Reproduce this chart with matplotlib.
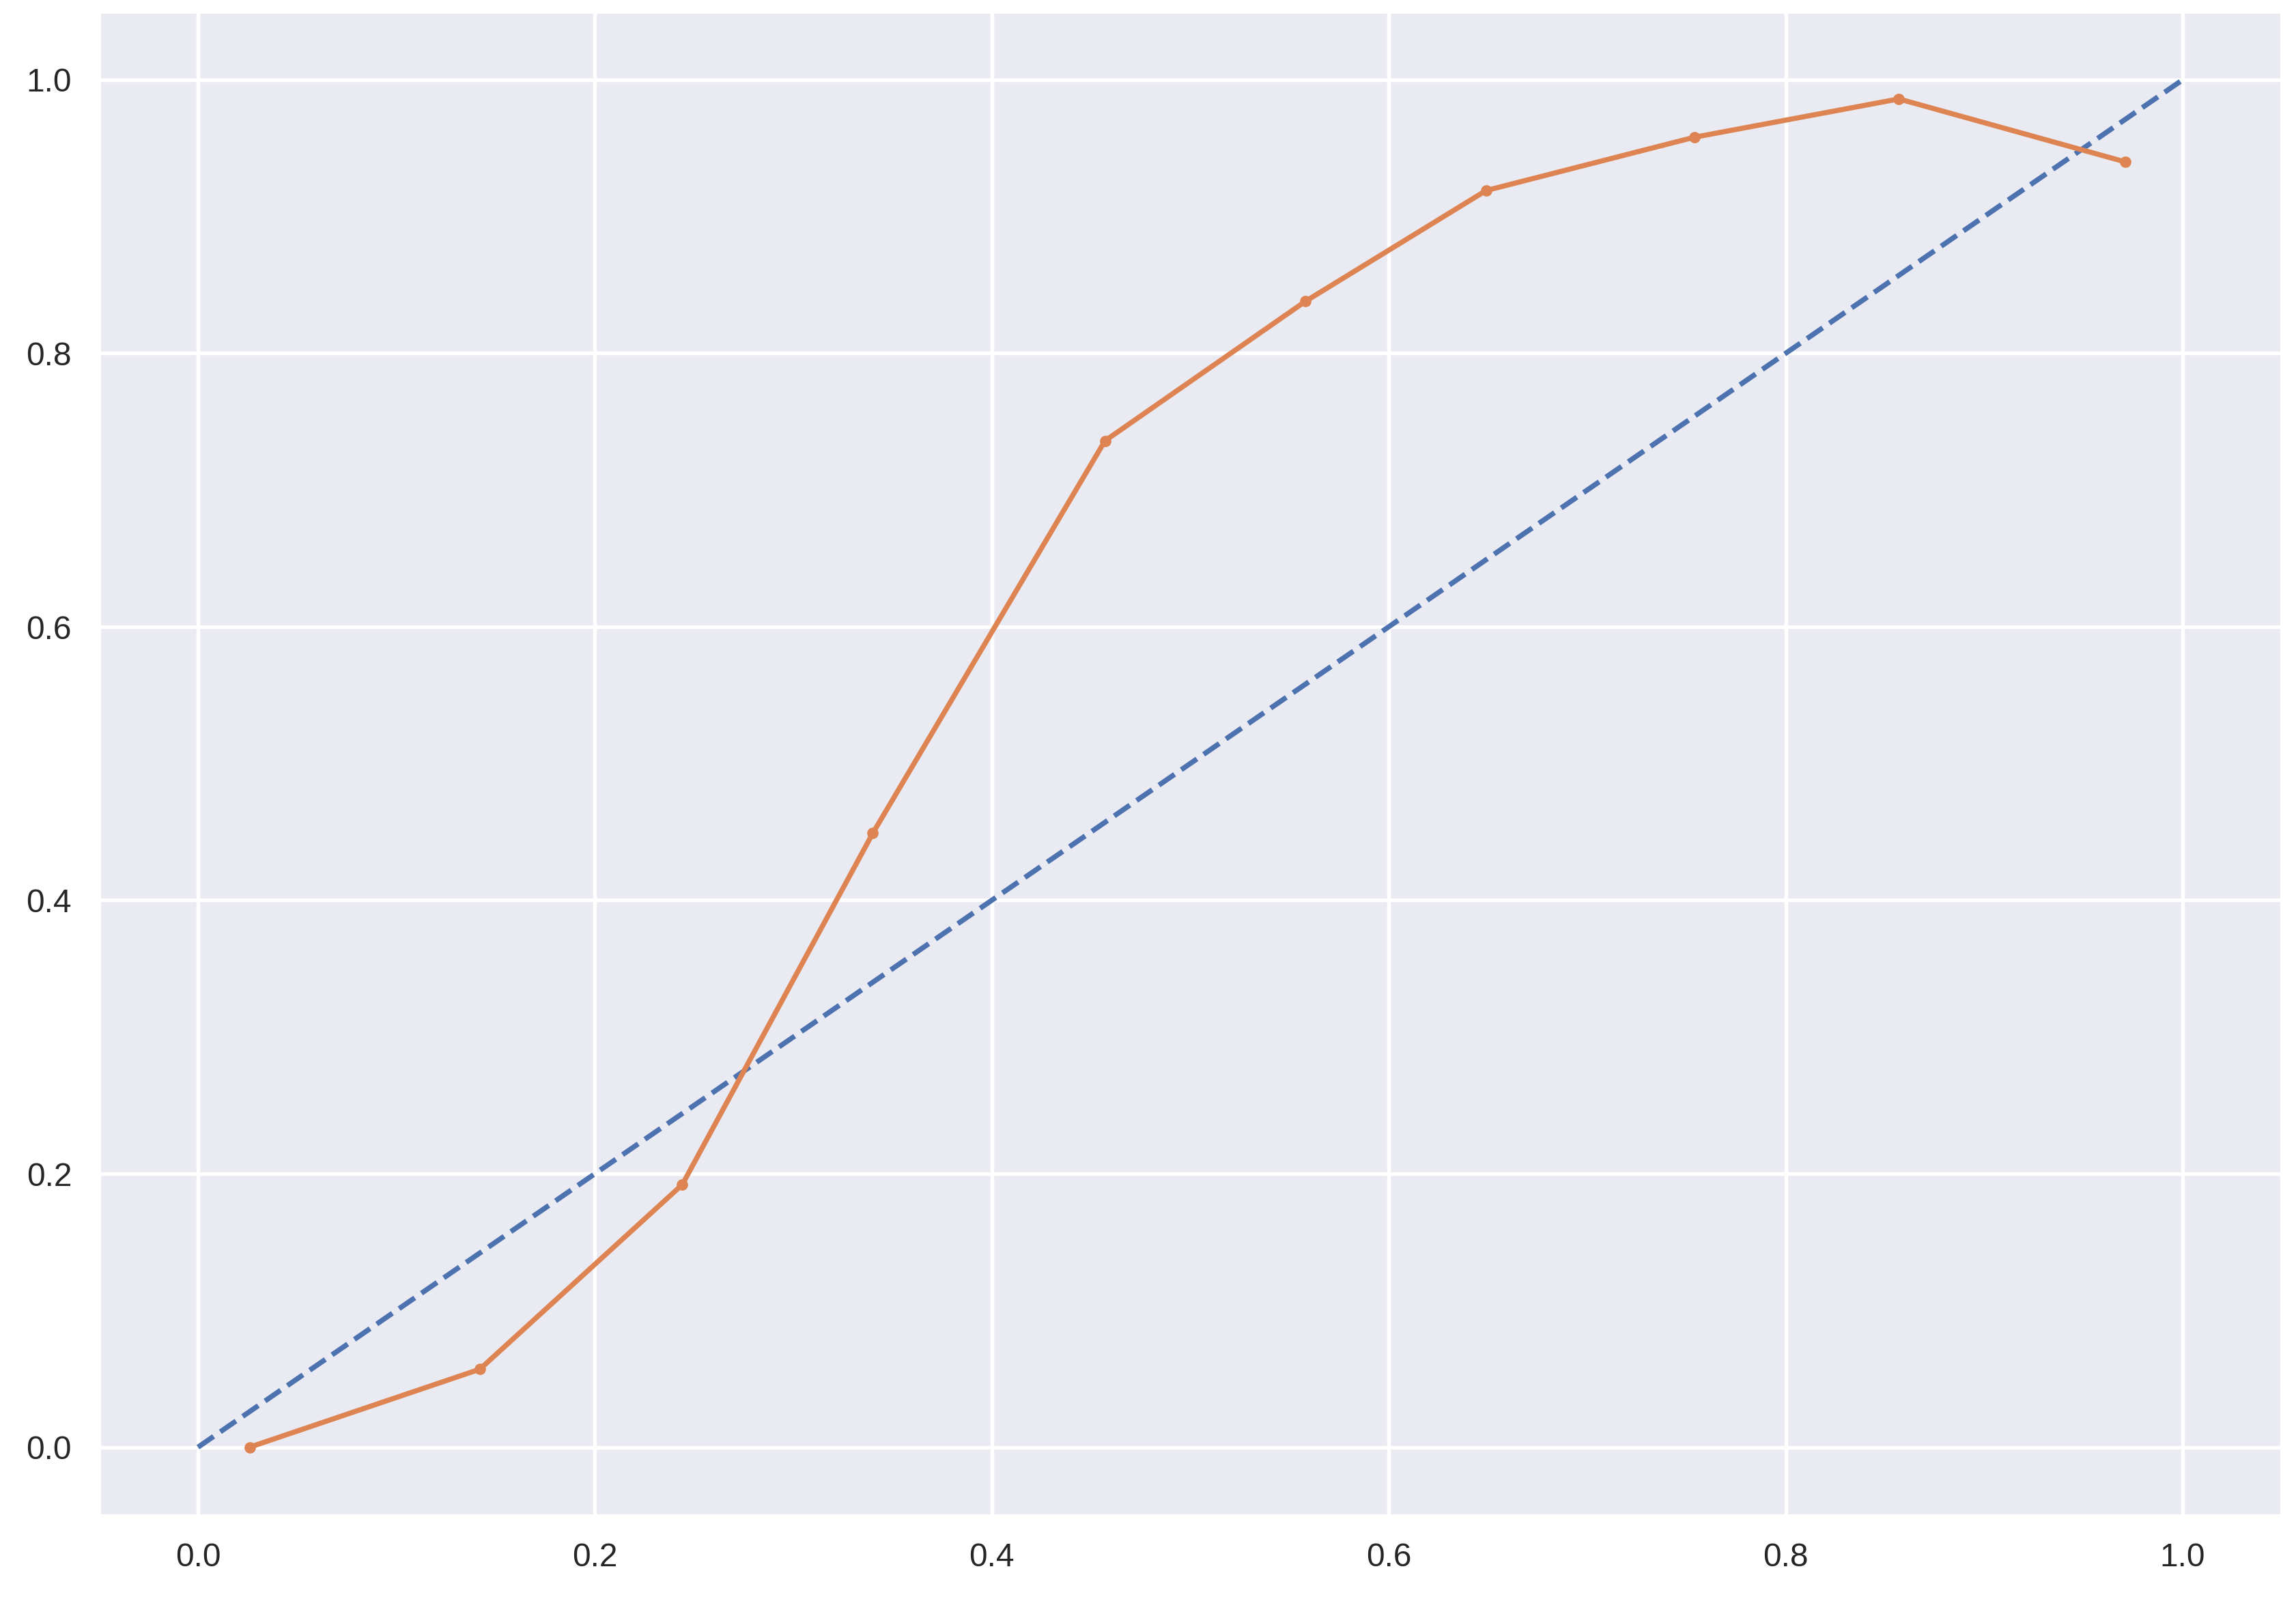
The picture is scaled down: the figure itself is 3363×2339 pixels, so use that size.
import matplotlib
matplotlib.use("Agg")
import matplotlib.pyplot as plt
import seaborn as sns

# mean predicted probability vs fraction of positives (calibration curve)
mean_predicted = [0.026, 0.142, 0.244, 0.340, 0.457, 0.558, 0.649, 0.754, 0.857, 0.971]
fraction_positives = [0.000, 0.057, 0.192, 0.449, 0.736, 0.838, 0.919, 0.958, 0.986, 0.940]

# perfectly calibrated reference
perfect = [0, 1]

sns.set_theme(style="darkgrid", rc={'grid.linewidth': 1.3})
plt.rcParams['font.family'] = ['Liberation Sans', 'DejaVu Sans']

fig = plt.figure(figsize=(11.213, 7.797), dpi=300)
ax = fig.add_axes([0.043, 0.051, 0.9506, 0.9418])

ax.plot(perfect, perfect, linestyle='--', color=sns.color_palette()[0], linewidth=1.8)
ax.plot(mean_predicted, fraction_positives, marker='.', color=sns.color_palette()[1], linewidth=1.8)

ax.tick_params(labelsize=11.5)

fig.savefig("out.png", dpi=300)
